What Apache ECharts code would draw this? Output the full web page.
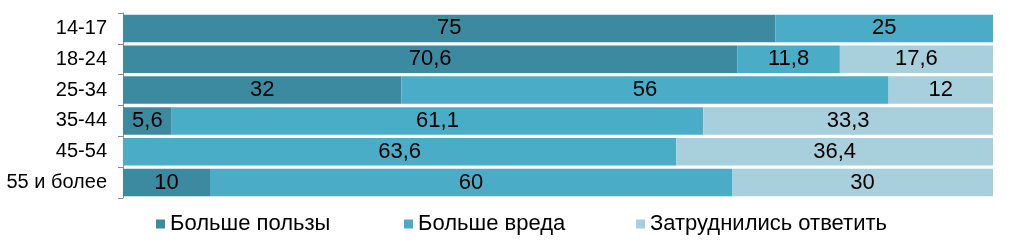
<!DOCTYPE html>
<html>
<head>
<meta charset="utf-8">
<script src="https://cdn.jsdelivr.net/npm/echarts@6/dist/echarts.min.js"></script>
<style>
html,body{margin:0;padding:0;background:#fff;}
#chart{width:1024px;height:242px;}
</style>
</head>
<body>
<div id="chart"></div>
<script>
const categories = ['14-17', '18-24', '25-34', '35-44', '45-54', '55 и более'];
const seriesNames = ['Больше пользы', 'Больше вреда', 'Затруднились ответить'];
const benefit = [75, 70.6, 32, 5.6, 0, 10];
const harm = [25, 11.8, 56, 61.1, 63.6, 60];
const unsure = [0, 17.6, 12, 33.3, 36.4, 30];
const colors = ['#3C8AA0', '#4AACC6', '#A8CFDC'];

const chart = echarts.init(document.getElementById('chart'), null, {renderer: 'canvas'});
const FONT = 'Liberation Sans, Arial, sans-serif';
const values = [benefit, harm, unsure];

const series = values.map((arr, i) => ({
  name: seriesNames[i],
  type: 'bar',
  stack: 'total',
  data: arr,
  barCategoryGap: '11%',
  itemStyle: {color: colors[i]},
  label: {
    show: true,
    position: 'inside',
    color: '#000',
    fontFamily: FONT,
    fontSize: 22,
    formatter: p => p.value === 0 ? '' : String(p.value).replace('.', ',')
  }
}));

const legendLefts = [156, 404, 636];
const legends = seriesNames.map((n, i) => ({
  data: [n],
  left: legendLefts[i],
  top: 212,
  padding: 0,
  itemWidth: 9,
  itemHeight: 9,
  itemGap: 0,
  icon: 'rect',
  textStyle: {fontFamily: FONT, fontSize: 22, color: '#000', lineHeight: 24}
}));

chart.setOption({
  animation: false,
  grid: {left: 123, right: 31, top: 13, bottom: 44, containLabel: false},
  legend: legends,
  xAxis: {
    type: 'value', min: 0, max: 100, show: false
  },
  yAxis: {
    type: 'category',
    data: categories,
    inverse: true,
    axisLine: {show: true, lineStyle: {color: '#8C8C8C', width: 1}},
    axisTick: {show: true, length: 5, lineStyle: {color: '#8C8C8C'}},
    axisLabel: {fontFamily: FONT, fontSize: 20, color: '#000', margin: 16},
    splitLine: {show: false}
  },
  series: series
});
</script>
</body>
</html>
